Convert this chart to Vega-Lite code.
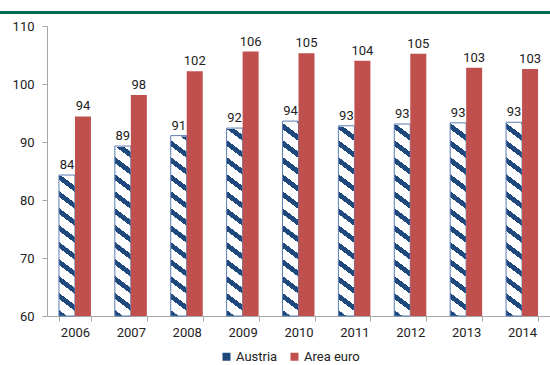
{
  "$schema": "https://vega.github.io/schema/vega-lite/v6.json",
  "width": 503,
  "height": 290,
  "autosize": {"type": "none"},
  "padding": {"left": 47, "top": 26, "right": 0, "bottom": 49},
  "background": "#ffffff",
  "config": {
    "view": {"stroke": null},
    "font": "Roboto, sans-serif",
    "axis": {
      "labelFont": "Roboto, sans-serif",
      "labelFontSize": 13,
      "labelColor": "#222222",
      "domainColor": "#A6A6A6",
      "tickColor": "#A6A6A6",
      "tickSize": 5,
      "grid": false,
      "title": null
    },
    "legend": {
      "labelFont": "Roboto, sans-serif",
      "labelFontSize": 13,
      "labelColor": "#222222"
    }
  },
  "data": {
    "values": [
      {"year": "2006", "series": "Austria", "value": 84.3},
      {"year": "2007", "series": "Austria", "value": 89.3},
      {"year": "2008", "series": "Austria", "value": 91.1},
      {"year": "2009", "series": "Austria", "value": 92.4},
      {"year": "2010", "series": "Austria", "value": 93.6},
      {"year": "2011", "series": "Austria", "value": 92.8},
      {"year": "2012", "series": "Austria", "value": 93.1},
      {"year": "2013", "series": "Austria", "value": 93.3},
      {"year": "2014", "series": "Austria", "value": 93.4},
      {"year": "2006", "series": "Area euro", "value": 94.4},
      {"year": "2007", "series": "Area euro", "value": 98.1},
      {"year": "2008", "series": "Area euro", "value": 102.2},
      {"year": "2009", "series": "Area euro", "value": 105.6},
      {"year": "2010", "series": "Area euro", "value": 105.3},
      {"year": "2011", "series": "Area euro", "value": 104.0},
      {"year": "2012", "series": "Area euro", "value": 105.2},
      {"year": "2013", "series": "Area euro", "value": 102.8},
      {"year": "2014", "series": "Area euro", "value": 102.6}
    ]
  },
  "resolve": {"scale": {"x": "independent"}},
  "layer": [
    {
      "mark": {"type": "rule", "color": "#006B52", "strokeWidth": 3, "clip": false},
      "encoding": {
        "x": {"datum": -0.0934, "type": "quantitative", "scale": {"domain": [0, 1], "nice": false, "zero": false}, "axis": null},
        "x2": {"datum": 1.01},
        "y": {"datum": 112.33, "type": "quantitative"}
      },
      "transform": [{"filter": "datum.year === '2006' && datum.series === 'Austria'"}]
    },
    {
      "encoding": {
        "x": {
          "field": "year",
          "type": "ordinal",
          "sort": null,
          "scale": {"type": "band", "paddingInner": 0.4274, "paddingOuter": 0.2137},
          "axis": {"tickBand": "extent", "labelAngle": 0, "labelPadding": 5, "title": null}
        },
        "xOffset": {
          "field": "series",
          "type": "nominal",
          "sort": ["Austria", "Area euro"],
          "scale": {"domain": ["Austria", "Area euro"], "paddingInner": 0, "paddingOuter": 0}
        }
      },
      "layer": [
        {
          "transform": [{"filter": "datum.series === 'Austria'"}],
          "mark": {
            "type": "bar",
            "fill": {
              "gradient": "linear",
              "x1": 0, "y1": 1, "x2": 0.04302, "y2": -0.0396,
              "stops": [
                {"offset": 0, "color": "#1F497D"},
                {"offset": 0.0199, "color": "#1F497D"},
                {"offset": 0.0199, "color": "#FFFFFF"},
                {"offset": 0.0563, "color": "#FFFFFF"},
                {"offset": 0.0563, "color": "#1F497D"},
                {"offset": 0.0762, "color": "#1F497D"},
                {"offset": 0.0762, "color": "#FFFFFF"},
                {"offset": 0.1126, "color": "#FFFFFF"},
                {"offset": 0.1126, "color": "#1F497D"},
                {"offset": 0.1325, "color": "#1F497D"},
                {"offset": 0.1325, "color": "#FFFFFF"},
                {"offset": 0.1689, "color": "#FFFFFF"},
                {"offset": 0.1689, "color": "#1F497D"},
                {"offset": 0.1888, "color": "#1F497D"},
                {"offset": 0.1888, "color": "#FFFFFF"},
                {"offset": 0.2252, "color": "#FFFFFF"},
                {"offset": 0.2252, "color": "#1F497D"},
                {"offset": 0.2451, "color": "#1F497D"},
                {"offset": 0.2451, "color": "#FFFFFF"},
                {"offset": 0.2815, "color": "#FFFFFF"},
                {"offset": 0.2815, "color": "#1F497D"},
                {"offset": 0.3014, "color": "#1F497D"},
                {"offset": 0.3014, "color": "#FFFFFF"},
                {"offset": 0.3377, "color": "#FFFFFF"},
                {"offset": 0.3377, "color": "#1F497D"},
                {"offset": 0.3576, "color": "#1F497D"},
                {"offset": 0.3576, "color": "#FFFFFF"},
                {"offset": 0.3940, "color": "#FFFFFF"},
                {"offset": 0.3940, "color": "#1F497D"},
                {"offset": 0.4139, "color": "#1F497D"},
                {"offset": 0.4139, "color": "#FFFFFF"},
                {"offset": 0.4503, "color": "#FFFFFF"},
                {"offset": 0.4503, "color": "#1F497D"},
                {"offset": 0.4702, "color": "#1F497D"},
                {"offset": 0.4702, "color": "#FFFFFF"},
                {"offset": 0.5066, "color": "#FFFFFF"},
                {"offset": 0.5066, "color": "#1F497D"},
                {"offset": 0.5265, "color": "#1F497D"},
                {"offset": 0.5265, "color": "#FFFFFF"},
                {"offset": 0.5629, "color": "#FFFFFF"},
                {"offset": 0.5629, "color": "#1F497D"},
                {"offset": 0.5828, "color": "#1F497D"},
                {"offset": 0.5828, "color": "#FFFFFF"},
                {"offset": 0.6192, "color": "#FFFFFF"},
                {"offset": 0.6192, "color": "#1F497D"},
                {"offset": 0.6391, "color": "#1F497D"},
                {"offset": 0.6391, "color": "#FFFFFF"},
                {"offset": 0.6755, "color": "#FFFFFF"},
                {"offset": 0.6755, "color": "#1F497D"},
                {"offset": 0.6954, "color": "#1F497D"},
                {"offset": 0.6954, "color": "#FFFFFF"},
                {"offset": 0.7318, "color": "#FFFFFF"},
                {"offset": 0.7318, "color": "#1F497D"},
                {"offset": 0.7517, "color": "#1F497D"},
                {"offset": 0.7517, "color": "#FFFFFF"},
                {"offset": 0.7881, "color": "#FFFFFF"},
                {"offset": 0.7881, "color": "#1F497D"},
                {"offset": 0.8080, "color": "#1F497D"},
                {"offset": 0.8080, "color": "#FFFFFF"},
                {"offset": 0.8444, "color": "#FFFFFF"},
                {"offset": 0.8444, "color": "#1F497D"},
                {"offset": 0.8643, "color": "#1F497D"},
                {"offset": 0.8643, "color": "#FFFFFF"},
                {"offset": 0.9007, "color": "#FFFFFF"},
                {"offset": 0.9007, "color": "#1F497D"},
                {"offset": 0.9206, "color": "#1F497D"},
                {"offset": 0.9206, "color": "#FFFFFF"},
                {"offset": 0.9570, "color": "#FFFFFF"},
                {"offset": 0.9570, "color": "#1F497D"},
                {"offset": 0.9769, "color": "#1F497D"},
                {"offset": 0.9769, "color": "#FFFFFF"},
                {"offset": 1, "color": "#FFFFFF"}
              ]
            }
          },
          "encoding": {
            "y": {
              "datum": 110,
              "type": "quantitative",
              "scale": {"domain": [60, 110], "nice": false, "zero": false},
              "axis": {"values": [60, 70, 80, 90, 100, 110], "labelPadding": 8, "title": null}
            },
            "y2": {"datum": 60}
          }
        },
        {
          "transform": [{"filter": "datum.series === 'Austria'"}],
          "mark": {"type": "bar", "fill": "#FFFFFF", "stroke": "#FFFFFF", "strokeWidth": 2},
          "encoding": {
            "y": {"field": "value", "type": "quantitative"},
            "y2": {"datum": 110}
          }
        },
        {
          "transform": [{"filter": "datum.series === 'Austria'"}],
          "mark": {"type": "bar", "fill": null, "fillOpacity": 0, "stroke": "#5B7DB1", "strokeWidth": 1},
          "encoding": {
            "y": {"field": "value", "type": "quantitative"},
            "y2": {"datum": 60}
          }
        },
        {
          "transform": [{"filter": "datum.series === 'Area euro'"}],
          "mark": {"type": "bar"},
          "encoding": {
            "y": {"field": "value", "type": "quantitative"},
            "y2": {"datum": 60},
            "color": {
              "field": "series",
              "type": "nominal",
              "scale": {"domain": ["Austria", "Area euro"], "range": ["#1F497D", "#C0504D"]},
              "legend": {
                "title": null,
                "orient": "none",
                "direction": "horizontal",
                "legendX": 173,
                "legendY": 324,
                "symbolType": "square",
                "symbolSize": 64,
                "symbolStrokeWidth": 0,
                "labelOffset": 3,
                "columnPadding": 10,
                "padding": 0,
                "encode": {
                  "symbols": {
                    "update": {
                      "fill": [
                        {
                          "test": "datum.value === 'Austria'",
                          "value": {
                            "gradient": "linear",
                            "x1": 0, "y1": 0, "x2": 1, "y2": 1,
                            "stops": [
                              {"offset": 0, "color": "#1F497D"},
                              {"offset": 0.55, "color": "#1F497D"},
                              {"offset": 0.55, "color": "#FFFFFF"},
                              {"offset": 0.75, "color": "#FFFFFF"},
                              {"offset": 0.75, "color": "#1F497D"},
                              {"offset": 1, "color": "#1F497D"}
                            ]
                          }
                        },
                        {"value": "#C0504D"}
                      ]
                    }
                  }
                }
              }
            }
          }
        },
        {
          "mark": {"type": "text", "baseline": "alphabetic", "dy": -6, "fontSize": 13, "color": "#222222", "font": "Roboto, sans-serif"},
          "encoding": {
            "y": {"field": "value", "type": "quantitative"},
            "text": {"field": "value", "type": "quantitative", "format": ".0f"}
          }
        }
      ]
    }
  ]
}
